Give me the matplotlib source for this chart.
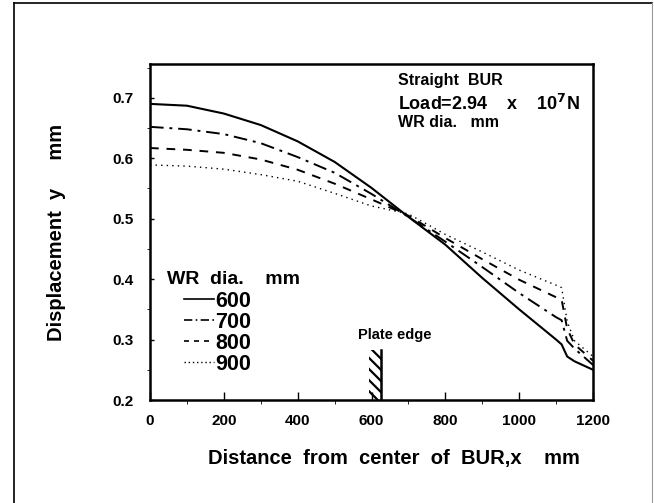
"""Displacement of BUR along its length for several WR diameters"""

import matplotlib.pyplot as plt
from matplotlib.lines import Line2D
from matplotlib.patches import Rectangle

plt.rcParams["font.family"] = ["Liberation Sans", "DejaVu Sans"]
plt.rcParams["font.weight"] = "bold"
plt.rcParams["hatch.linewidth"] = 1.6

x_mm = [0, 100, 200, 300, 400, 500, 600, 700, 800, 900, 1000, 1100, 1115, 1130, 1150, 1200]
wr_600 = [0.690, 0.687, 0.674, 0.655, 0.628, 0.594, 0.551, 0.503, 0.457, 0.402, 0.350,
          0.300, 0.292, 0.272, 0.264, 0.250]
wr_700 = [0.652, 0.648, 0.640, 0.625, 0.602, 0.576, 0.541, 0.503, 0.462, 0.420, 0.377,
          0.337, 0.332, 0.298, 0.285, 0.258]
wr_800 = [0.617, 0.614, 0.609, 0.598, 0.581, 0.558, 0.532, 0.505, 0.468, 0.433, 0.399,
          0.370, 0.366, 0.318, 0.292, 0.265]
wr_900 = [0.589, 0.587, 0.582, 0.573, 0.562, 0.542, 0.521, 0.508, 0.474, 0.445, 0.415,
          0.390, 0.386, 0.330, 0.298, 0.272]
wr_labels = ["600", "700", "800", "900"]

fig = plt.figure(figsize=(6.54, 5.03), dpi=100)
ax = fig.add_axes([150 / 654, 103 / 503, 443 / 654, 336 / 503])

ax.plot(x_mm, wr_600, "-", color="black", lw=1.5)
ax.plot(x_mm, wr_700, color="black", lw=1.4, dashes=(7, 3, 1.5, 3))
ax.plot(x_mm, wr_800, color="black", lw=1.4, dashes=(4.5, 4))
ax.plot(x_mm, wr_900, color="black", lw=1.0, dashes=(1, 3))

# plate edge marker
ax.add_patch(Rectangle((592, 0.2), 33, 0.083, fill=False, hatch="\\\\\\", lw=0))
ax.plot([625, 625], [0.2, 0.283], color="black", lw=1.8)
ax.text(664, 0.307, "Plate edge", ha="center", va="center", fontsize=10.5)

ax.set_xlim(0, 1200)
ax.set_ylim(0.2, 0.756)
ax.set_xticks(range(0, 1201, 200))
ax.set_xticks(range(0, 1201, 100), minor=True)
ax.set_yticks([0.2, 0.3, 0.4, 0.5, 0.6, 0.7])
ax.set_yticks([0.25, 0.35, 0.45, 0.55, 0.65, 0.75], minor=True)
ax.tick_params(direction="in", labelsize=11, width=1)
ax.tick_params(axis="x", which="major", length=6, pad=10)
ax.tick_params(axis="x", which="minor", length=3)
ax.tick_params(axis="y", which="major", length=3, pad=12)
ax.tick_params(axis="y", which="minor", length=2)
for sp in ax.spines.values():
    sp.set_linewidth(1.8)

ax.set_xlabel("Distance  from  center  of  BUR,x    mm", fontsize=14.5, fontweight="bold")
ax.xaxis.set_label_coords(0.551, -0.147)
ax.set_ylabel("Displacement  y     mm", fontsize=14.5, fontweight="bold")
ax.yaxis.set_label_coords(-0.19, 0.5)

ax.text(0.56, 0.952, "Straight  BUR", transform=ax.transAxes, fontsize=11.5, va="center")
ax.text(0.56, 0.881, "Load=2.94    x    10$^\\mathbf{7}$N", transform=ax.transAxes,
        fontsize=13, va="center")
ax.text(0.56, 0.827, "WR dia.   mm", transform=ax.transAxes, fontsize=11.5, va="center")

ax.text(0.038, 0.36, "WR  dia.    mm", transform=ax.transAxes, fontsize=14, va="center")
handles = [
    Line2D([], [], color="black", lw=1.2),
    Line2D([], [], color="black", lw=1.2, dashes=(5, 2, 1, 2)),
    Line2D([], [], color="black", lw=1.2, dashes=(3, 3)),
    Line2D([], [], color="black", lw=1.0, dashes=(1, 2)),
]
leg = ax.legend(handles, wr_labels, loc="upper left", bbox_to_anchor=(0.077, 0.325),
                frameon=False, fontsize=15.5, handlelength=1.4, handletextpad=0.05,
                labelspacing=0.0, borderpad=0, borderaxespad=0)

# outer border of the figure
fig.add_artist(Line2D([14 / 654, 14 / 654], [0, 1 - 3 / 503], color="black", lw=1.2))
fig.add_artist(Line2D([14 / 654, 652 / 654], [1 - 3 / 503, 1 - 3 / 503], color="black", lw=1.2))
fig.add_artist(Line2D([652 / 654, 652 / 654], [0, 1 - 3 / 503], color="0.6", lw=0.8))

fig.savefig("out.png", dpi=100)
